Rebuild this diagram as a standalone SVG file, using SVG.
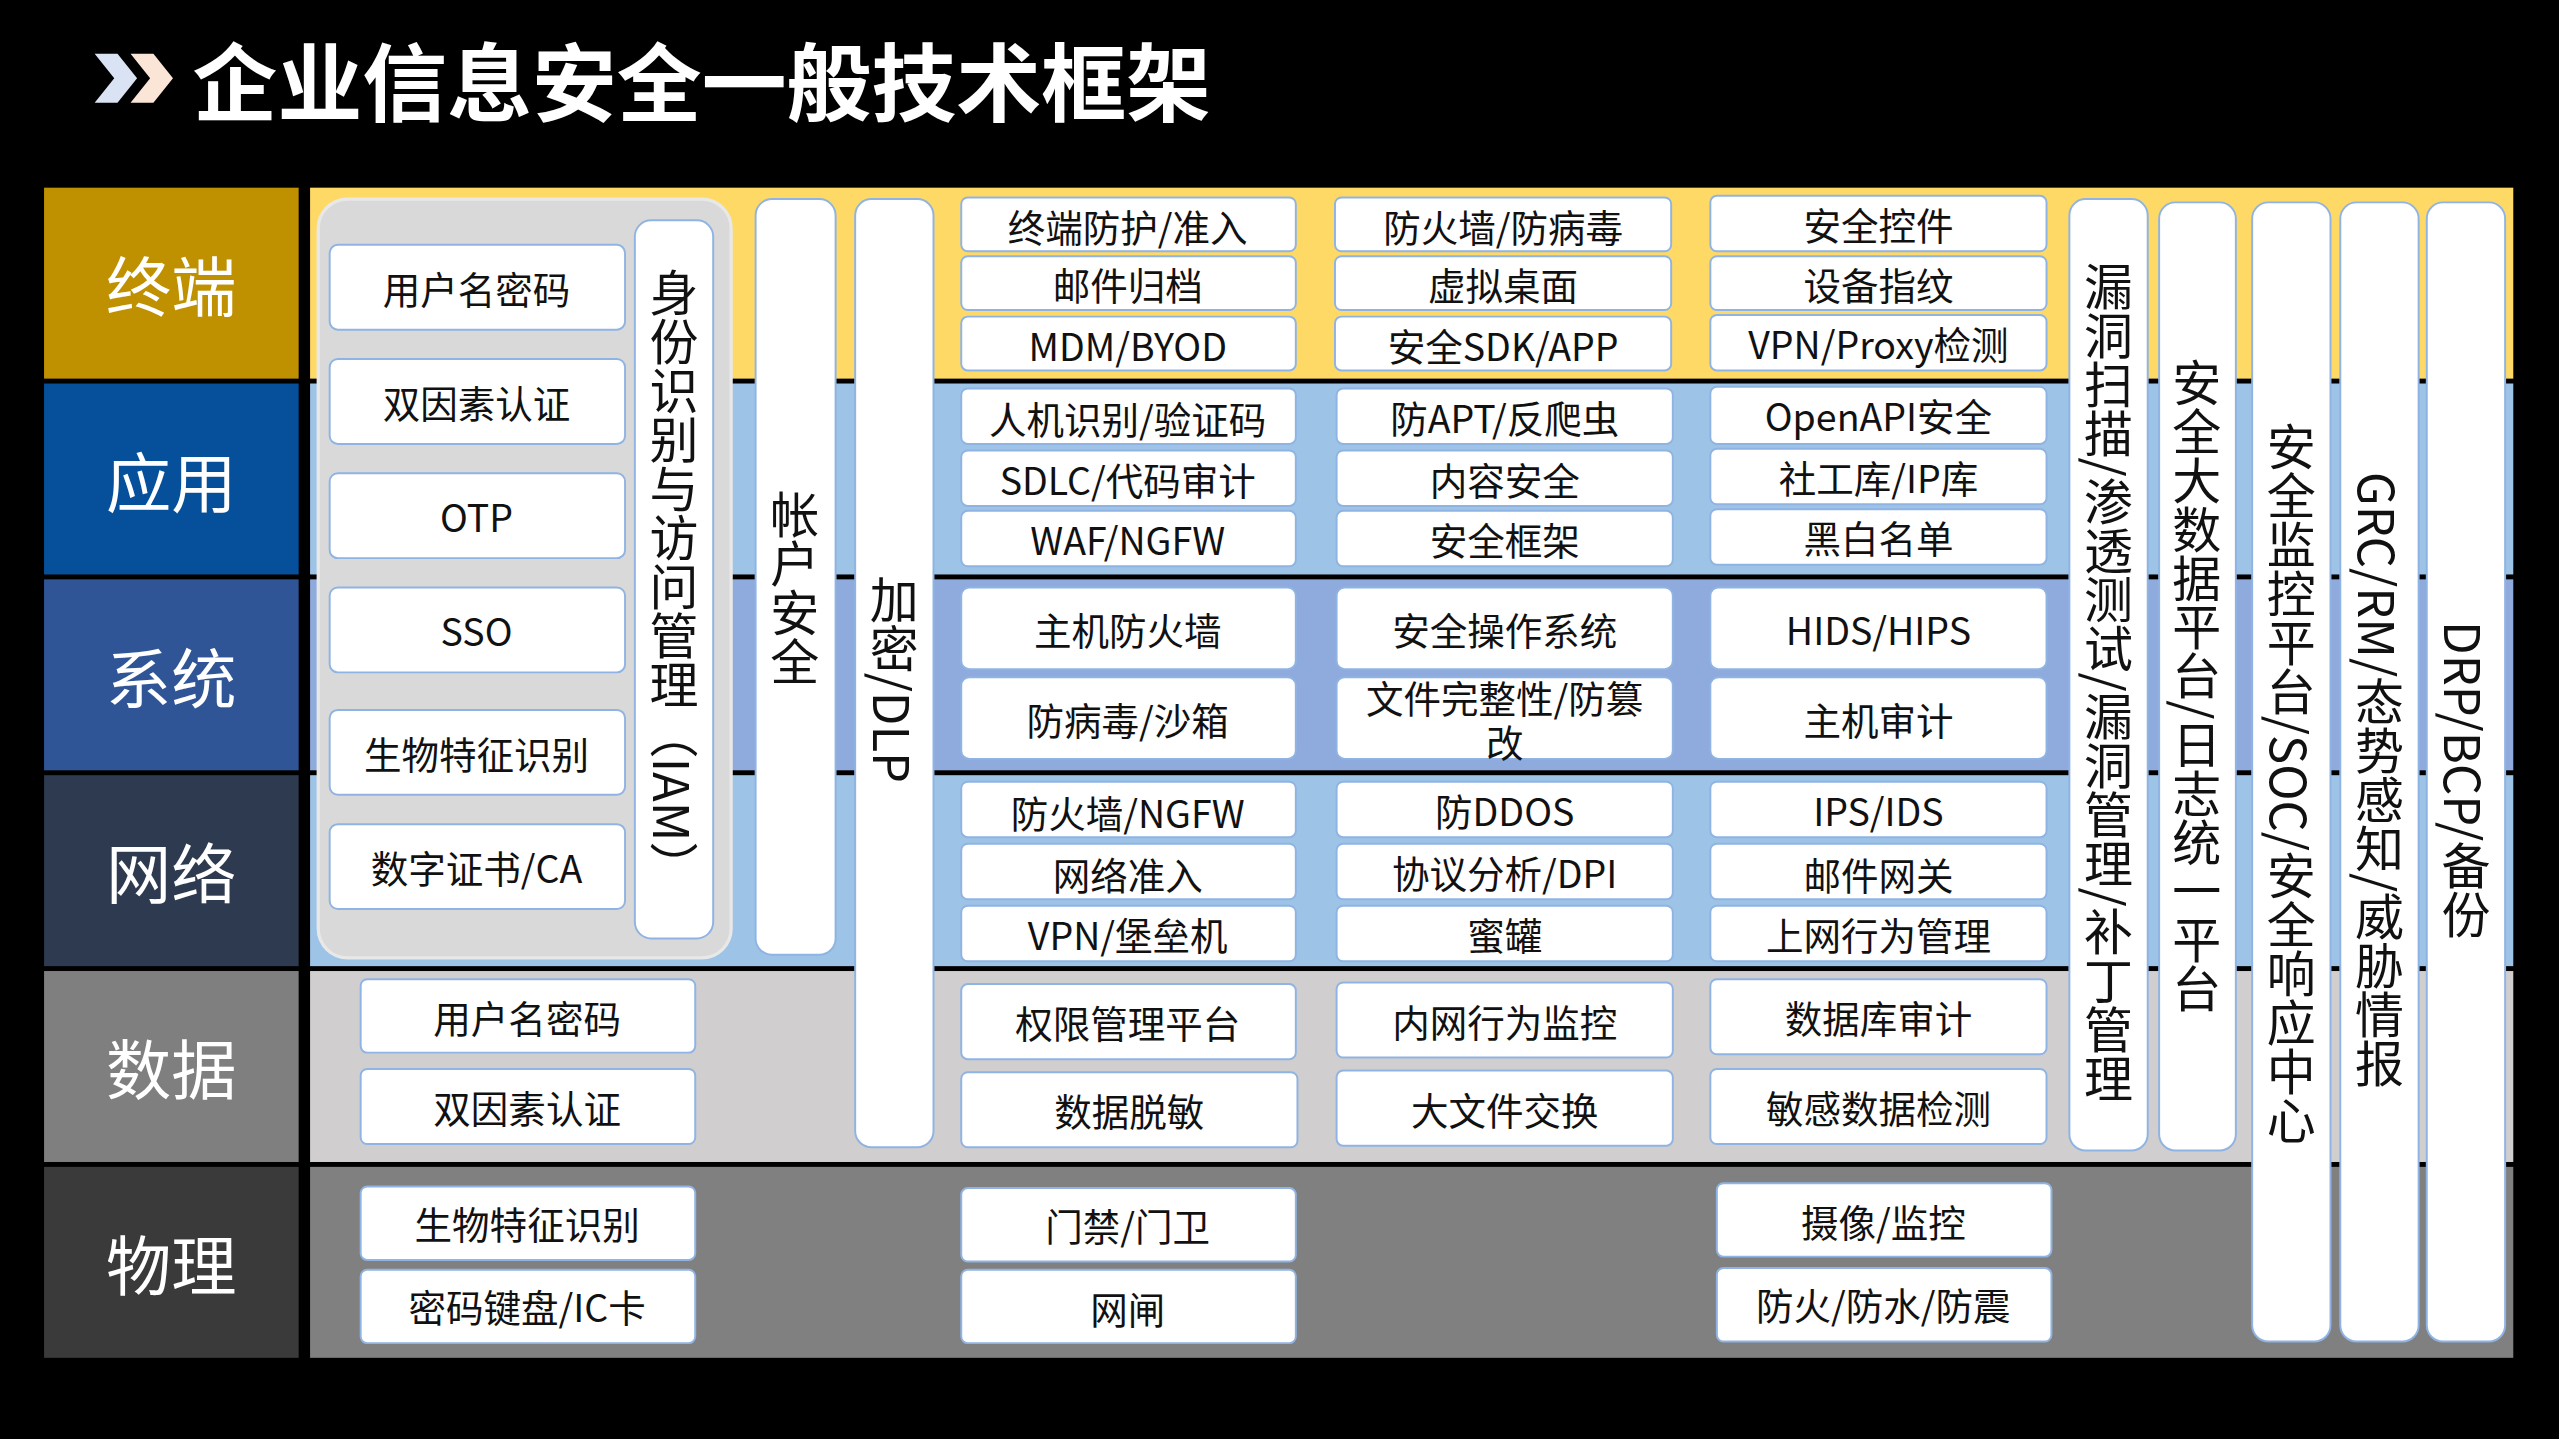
<svg xmlns="http://www.w3.org/2000/svg" width="2559" height="1439" viewBox="0 0 2559 1439">
<style>
.b{fill:#fff;stroke:#8FB4E3;stroke-width:1.2}
.t{font-family:"Noto Sans CJK SC","Noto Sans",sans-serif;font-size:23px;fill:#111;text-anchor:middle;dominant-baseline:central}
.p{fill:#fff;stroke:#8FB4E3;stroke-width:1.2}
.v{font-family:"Noto Sans CJK SC","Noto Sans",sans-serif;font-size:30px;fill:#111;writing-mode:vertical-rl;text-anchor:middle;dominant-baseline:central}
.l{font-family:"Noto Sans CJK SC","Noto Sans",sans-serif;font-size:40px;fill:#fff;text-anchor:middle;dominant-baseline:central}
</style>
<rect width="2559" height="1439" fill="#000"/>
<g transform="scale(1.632)">
<g id="title">
<polygon points="58,33 72,33 84,48 72,63 58,63 70,48" fill="#DAE3F3"/>
<polygon points="80,33 94,33 106,48 94,63 80,63 92,48" fill="#FBE5D6"/>
<text x="118" y="48" font-family="'Noto Sans CJK SC',sans-serif" font-size="52" font-weight="bold" fill="#fff" dominant-baseline="central">企业信息安全一般技术框架</text>
</g>
<g id="bands">
<rect x="27" y="115" width="156" height="117" fill="#BF9000"/>
<rect x="27" y="235" width="156" height="117" fill="#06509B"/>
<rect x="27" y="355" width="156" height="117" fill="#2F5597"/>
<rect x="27" y="475" width="156" height="117" fill="#2E3A4F"/>
<rect x="27" y="595" width="156" height="117" fill="#7F7F7F"/>
<rect x="27" y="715" width="156" height="117" fill="#3A3A3A"/>
<rect x="190" y="115" width="1350" height="117" fill="#FFD966"/>
<rect x="190" y="235" width="1350" height="117" fill="#9DC3E6"/>
<rect x="190" y="355" width="1350" height="117" fill="#8FAADC"/>
<rect x="190" y="475" width="1350" height="117" fill="#9DC3E6"/>
<rect x="190" y="595" width="1350" height="117" fill="#D0CECE"/>
<rect x="190" y="715" width="1350" height="117" fill="#808080"/>
<text class="l" x="105" y="173">终端</text>
<text class="l" x="105" y="293">应用</text>
<text class="l" x="105" y="413">系统</text>
<text class="l" x="105" y="533">网络</text>
<text class="l" x="105" y="653">数据</text>
<text class="l" x="105" y="773">物理</text>
</g>
<g id="iam">
<rect x="195" y="122" width="253" height="465" rx="18" fill="#D9D9D9" stroke="#E8E8E8" stroke-width="2"/>
<rect class="b" x="202" y="150" width="181" height="52" rx="5"/><text class="t" x="292" y="176">用户名密码</text>
<rect class="b" x="202" y="220" width="181" height="52" rx="5"/><text class="t" x="292" y="246">双因素认证</text>
<rect class="b" x="202" y="290" width="181" height="52" rx="5"/><text class="t" x="292" y="316">OTP</text>
<rect class="b" x="202" y="360" width="181" height="52" rx="5"/><text class="t" x="292" y="386">SSO</text>
<rect class="b" x="202" y="435" width="181" height="52" rx="5"/><text class="t" x="292" y="461">生物特征识别</text>
<rect class="b" x="202" y="505" width="181" height="52" rx="5"/><text class="t" x="292" y="531">数字证书/CA</text>
<rect class="p" x="389" y="135" width="48" height="440" rx="10"/><text class="v" x="413" y="355">身份识别与访问管理（IAM）</text>
</g>
<g id="pills">
<rect class="p" x="463" y="122" width="49" height="463" rx="10"/><text class="v" x="487" y="360">帐户安全</text>
<rect class="p" x="524" y="122" width="48" height="581" rx="10"/><text class="v" x="548" y="416">加密/DLP</text>
<rect class="p" x="1268" y="122" width="48" height="583" rx="10"/><text class="v" x="1292" y="418">漏洞扫描/渗透测试/漏洞管理/补丁管理</text>
<rect class="p" x="1323" y="124" width="47" height="581" rx="10"/><text class="v" x="1346" y="420" font-size="26">安全大数据平台/日志统一平台</text>
<rect class="p" x="1380" y="124" width="48" height="698" rx="10"/><text class="v" x="1404" y="480">安全监控平台/SOC/安全响应中心</text>
<rect class="p" x="1434" y="124" width="48" height="698" rx="10"/><text class="v" x="1458" y="478">GRC/RM/态势感知/威胁情报</text>
<rect class="p" x="1487" y="124" width="48" height="698" rx="10"/><text class="v" x="1511" y="478">DRP/BCP/备份</text>
</g>
<g id="terminal">
<rect class="b" x="589" y="121" width="205" height="33" rx="4"/><text class="t" x="691" y="138">终端防护/准入</text>
<rect class="b" x="589" y="157" width="205" height="33" rx="4"/><text class="t" x="691" y="174">邮件归档</text>
<rect class="b" x="589" y="194" width="205" height="33" rx="4"/><text class="t" x="691" y="211">MDM/BYOD</text>
<rect class="b" x="818" y="121" width="206" height="33" rx="4"/><text class="t" x="921" y="138">防火墙/防病毒</text>
<rect class="b" x="818" y="157" width="206" height="33" rx="4"/><text class="t" x="921" y="174">虚拟桌面</text>
<rect class="b" x="818" y="194" width="206" height="33" rx="4"/><text class="t" x="921" y="211">安全SDK/APP</text>
<rect class="b" x="1048" y="120" width="206" height="34" rx="4"/><text class="t" x="1151" y="137">安全控件</text>
<rect class="b" x="1048" y="157" width="206" height="33" rx="4"/><text class="t" x="1151" y="174">设备指纹</text>
<rect class="b" x="1048" y="193" width="206" height="34" rx="4"/><text class="t" x="1151" y="210">VPN/Proxy检测</text>
</g>
<g id="application">
<rect class="b" x="589" y="238" width="205" height="34" rx="4"/><text class="t" x="691" y="256">人机识别/验证码</text>
<rect class="b" x="589" y="276" width="205" height="34" rx="4"/><text class="t" x="691" y="293">SDLC/代码审计</text>
<rect class="b" x="589" y="313" width="205" height="34" rx="4"/><text class="t" x="691" y="330">WAF/NGFW</text>
<rect class="b" x="819" y="238" width="206" height="34" rx="4"/><text class="t" x="922" y="255">防APT/反爬虫</text>
<rect class="b" x="819" y="276" width="206" height="34" rx="4"/><text class="t" x="922" y="293">内容安全</text>
<rect class="b" x="819" y="313" width="206" height="34" rx="4"/><text class="t" x="922" y="330">安全框架</text>
<rect class="b" x="1048" y="237" width="206" height="35" rx="4"/><text class="t" x="1151" y="254">OpenAPI安全</text>
<rect class="b" x="1048" y="275" width="206" height="34" rx="4"/><text class="t" x="1151" y="292">社工库/IP库</text>
<rect class="b" x="1048" y="312" width="206" height="34" rx="4"/><text class="t" x="1151" y="329">黑白名单</text>
</g>
<g id="system">
<rect class="b" x="589" y="360" width="205" height="50" rx="5"/><text class="t" x="691" y="385">主机防火墙</text>
<rect class="b" x="589" y="415" width="205" height="50" rx="5"/><text class="t" x="691" y="440">防病毒/沙箱</text>
<rect class="b" x="819" y="360" width="206" height="50" rx="5"/><text class="t" x="922" y="385">安全操作系统</text>
<rect class="b" x="819" y="415" width="206" height="50" rx="5"/><text class="t" x="922" y="427" font-size="22">文件完整性/防篡</text><text class="t" x="922" y="454" font-size="22">改</text>
<rect class="b" x="1048" y="360" width="206" height="50" rx="5"/><text class="t" x="1151" y="385">HIDS/HIPS</text>
<rect class="b" x="1048" y="415" width="206" height="50" rx="5"/><text class="t" x="1151" y="440">主机审计</text>
</g>
<g id="network">
<rect class="b" x="589" y="479" width="205" height="34" rx="4"/><text class="t" x="691" y="497">防火墙/NGFW</text>
<rect class="b" x="589" y="517" width="205" height="34" rx="4"/><text class="t" x="691" y="535">网络准入</text>
<rect class="b" x="589" y="555" width="205" height="34" rx="4"/><text class="t" x="691" y="572">VPN/堡垒机</text>
<rect class="b" x="819" y="479" width="206" height="34" rx="4"/><text class="t" x="922" y="496">防DDOS</text>
<rect class="b" x="819" y="517" width="206" height="34" rx="4"/><text class="t" x="922" y="534">协议分析/DPI</text>
<rect class="b" x="819" y="555" width="206" height="34" rx="4"/><text class="t" x="922" y="572">蜜罐</text>
<rect class="b" x="1048" y="479" width="206" height="34" rx="4"/><text class="t" x="1151" y="496">IPS/IDS</text>
<rect class="b" x="1048" y="517" width="206" height="34" rx="4"/><text class="t" x="1151" y="535">邮件网关</text>
<rect class="b" x="1048" y="555" width="206" height="34" rx="4"/><text class="t" x="1151" y="572">上网行为管理</text>
</g>
<g id="data">
<rect class="b" x="221" y="600" width="205" height="45" rx="4"/><text class="t" x="323" y="623">用户名密码</text>
<rect class="b" x="221" y="655" width="205" height="46" rx="4"/><text class="t" x="323" y="678">双因素认证</text>
<rect class="b" x="589" y="603" width="205" height="46" rx="4"/><text class="t" x="691" y="626">权限管理平台</text>
<rect class="b" x="589" y="657" width="206" height="46" rx="4"/><text class="t" x="692" y="680">数据脱敏</text>
<rect class="b" x="819" y="602" width="206" height="46" rx="4"/><text class="t" x="922" y="625">内网行为监控</text>
<rect class="b" x="819" y="656" width="206" height="46" rx="4"/><text class="t" x="922" y="679">大文件交换</text>
<rect class="b" x="1048" y="600" width="206" height="46" rx="4"/><text class="t" x="1151" y="623">数据库审计</text>
<rect class="b" x="1048" y="655" width="206" height="46" rx="4"/><text class="t" x="1151" y="678">敏感数据检测</text>
</g>
<g id="physical">
<rect class="b" x="221" y="727" width="205" height="45" rx="4"/><text class="t" x="323" y="749">生物特征识别</text>
<rect class="b" x="221" y="778" width="205" height="45" rx="4"/><text class="t" x="323" y="800">密码键盘/IC卡</text>
<rect class="b" x="589" y="728" width="205" height="45" rx="4"/><text class="t" x="691" y="750">门禁/门卫</text>
<rect class="b" x="589" y="778" width="205" height="45" rx="4"/><text class="t" x="691" y="801">网闸</text>
<rect class="b" x="1052" y="725" width="205" height="45" rx="4"/><text class="t" x="1154" y="748">摄像/监控</text>
<rect class="b" x="1052" y="777" width="205" height="45" rx="4"/><text class="t" x="1154" y="799">防火/防水/防震</text>
</g>
<g id="connectors"></g>
</g>
</svg>
